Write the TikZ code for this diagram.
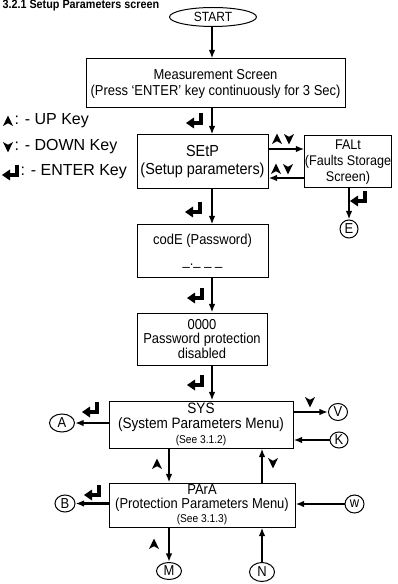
\documentclass[tikz,border=0pt]{standalone}
\usepackage{fontspec}
\setmainfont{Liberation Sans}[FakeStretch=0.9]
\newfontfamily\keyfont{Liberation Sans}
\usetikzlibrary{arrows.meta,shapes.geometric}

\tikzset{every picture/.style={line width=0.75pt}}
\tikzset{
  box/.style={draw, rectangle, align=center, inner sep=0pt, font=\fontsize{10.8}{12}\selectfont},
  conn/.style={draw, ellipse, inner sep=0pt, font=\fontsize{10.8}{12}\selectfont},
  keytext/.style={anchor=west, inner sep=0pt, font=\keyfont\fontsize{12}{14}\selectfont},
  flow/.style={line width=1.8pt, -{Latex[length=6.5pt,width=5pt]}},
  upkey/.pic={\fill (0,5.5) -- (5,-5) -- (0,-2.2) -- (-5,-5) -- cycle;},
  downkey/.pic={\fill (0,-5.5) -- (5,5) -- (0,2.2) -- (-5,5) -- cycle;},
  enterkey/.pic={\draw[line width=3pt] (6,7) -- (6,-3) -- (-2,-3);
                 \fill (-1,2.5) -- (-9,-3) -- (-1,-8.5) -- cycle;},
}

\begin{document}
\begin{tikzpicture}[x=0.75pt,y=0.75pt,yscale=-1,xscale=1]
\useasboundingbox (0,0) rectangle (397,584);

% Title
\node (title) [anchor=base west, inner sep=0pt, font=\fontsize{9}{11}\selectfont\bfseries] at (2,9) {3.2.1 Setup Parameters screen};

%Shape: Ellipse
\node (start) [conn, minimum width=65.25pt, minimum height=14.25pt, font=\fontsize{10}{12}\selectfont] at (213,17) {START};
%Shape: Rectangle
\node (meas) [box, minimum width=194.25pt, minimum height=36.75pt] at (215.5,83.5) {Measurement Screen\\(Press `ENTER' key continuously for 3 Sec)};
%Shape: Rectangle
\node (setp) [box, minimum width=98.25pt, minimum height=40.5pt, font=\fontsize{12}{13.5}\selectfont] at (202.5,162) {SEtP\\(Setup parameters)};
%Shape: Rectangle
\node (falt) [box, minimum width=64.5pt, minimum height=39pt, font=\fontsize{10.5}{12}\selectfont] at (348,162) {FALt\\(Faults Storage\\Screen)};
%Shape: Rectangle
\node (code) [box, minimum width=98.25pt, minimum height=39pt] at (202.5,251) {codE (Password)\\[4pt]\_.\_ \_ \_};
%Shape: Rectangle
\node (pwd) [box, minimum width=97.5pt, minimum height=39pt, font=\fontsize{10.8}{11.2}\selectfont] at (202,339) {0000\\Password protection\\disabled};
%Shape: Rectangle
\node (sys) [box, minimum width=138pt, minimum height=35.25pt, font=\fontsize{11.3}{11.4}\selectfont] at (201,424.5) {SYS\\(System Parameters Menu)\\{\fontsize{8.5}{10}\selectfont (See 3.1.2)}};
%Shape: Rectangle
\node (para) [box, minimum width=139.5pt, minimum height=33pt, font=\fontsize{10.8}{10.6}\selectfont] at (202,505) {PArA\\(Protection Parameters Menu)\\{\fontsize{8.5}{10}\selectfont (See 3.1.3)}};

%Shape: Circles
\node (cE) [conn, minimum width=13.5pt, minimum height=13.5pt] at (349,229) {E};
\node (cA) [conn, minimum width=18.75pt, minimum height=13.5pt] at (62,423) {A};
\node (cV) [conn, minimum width=14.25pt, minimum height=12.75pt] at (338,412) {V};
\node (cK) [conn, minimum width=13.5pt, minimum height=12pt] at (339,440) {K};
\node (cB) [conn, minimum width=15pt, minimum height=12.75pt] at (65,503.5) {B};
\node (cW) [conn, minimum width=14.25pt, minimum height=13.5pt] at (354.5,504) {w};
\node (cM) [conn, minimum width=18.75pt, minimum height=12.75pt] at (169,571) {M};
\node (cN) [conn, minimum width=18.75pt, minimum height=14.25pt] at (262,572) {N};

% Key legend
\pic at (8,121) {upkey};
\node (keyup) [keytext] at (14,121) {: - UP Key};
\pic at (8,147) {downkey};
\node (keydown) [keytext] at (14,147) {: - DOWN Key};
\pic at (11,172) {enterkey};
\node (keyenter) [keytext] at (20,172) {: - ENTER Key};

% Connectors
\coordinate (trunk) at (212,0);
\coordinate (fwd) at (0,149);
\coordinate (back) at (0,178);
\draw[flow] (start.south -| trunk) -- (meas.north -| trunk);
\draw[flow] (meas.south -| trunk) -- (setp.north -| trunk);
\draw[flow] (setp.south -| trunk) -- (code.north -| trunk);
\draw[flow] (code.south -| trunk) -- (pwd.north -| trunk);
\draw[flow] (pwd.south -| trunk) -- (sys.north -| trunk);
\draw[flow] (setp.east |- fwd) -- (falt.west |- fwd);
\draw[flow] (falt.west |- back) -- (setp.east |- back);
\draw[flow] (falt.south -| cE) -- (cE.north);
\draw[flow] (sys.west |- cA) -- (cA.east);
\draw[flow] (sys.east |- cV) -- (cV.west);
\draw[flow] (cK.west) -- (sys.east |- cK);
\draw[flow] (sys.south -| cM) -- (para.north -| cM);
\draw[flow] (para.north -| cN) -- (sys.south -| cN);
\draw[flow] (para.west |- cB) -- (cB.east);
\draw[flow] (cW.west) -- (para.east |- cW);
\draw[flow] (para.south -| cM) -- (cM.north);
\draw[flow] (cN.north) -- (para.south -| cN);

% Key marks beside the connectors
\pic at (195,120) {enterkey};
\pic at (194,209) {enterkey};
\pic at (196,295) {enterkey};
\pic at (196,382) {enterkey};
\pic at (359,198) {enterkey};
\pic at (91,409) {enterkey};
\pic at (93,492) {enterkey};
\pic at (277,139) {upkey};
\pic at (289,139) {downkey};
\pic at (276,169) {upkey};
\pic at (288,169) {downkey};
\pic at (310,402) {downkey};
\pic at (157,464) {upkey};
\pic at (273,463) {downkey};
\pic at (154,544) {upkey};

\end{tikzpicture}
\end{document}
